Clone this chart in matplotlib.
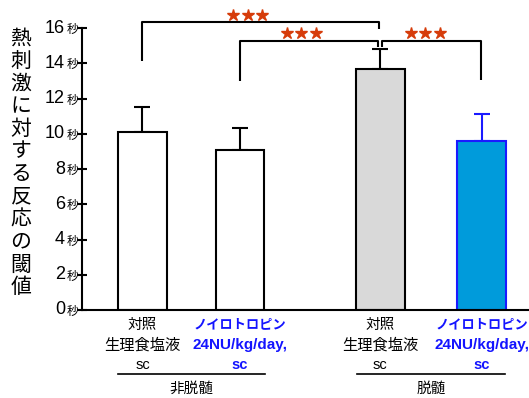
import matplotlib.pyplot as plt
import numpy as np

plt.rcParams['font.family'] = ['Liberation Sans', 'Noto Sans CJK JP']

# data
means = [10.1, 9.1, 13.7, 9.6]
errs = [1.4, 1.2, 1.1, 1.5]
xpos = [0, 1, 2.44, 3.48]
fills = ['white', 'white', '#d9d9d9', '#009bdb']
edges = ['black', 'black', 'black', '#1a1aff']
yticks = [0, 2, 4, 6, 8, 10, 12, 14, 16]
ylab = '熱刺激に対する反応の閾値'
lab_ctrl = ['対照', '生理食塩液', 'sc']
lab_drug = ['ノイロトロピン', '24NU/kg/day,', 'sc']
groups = ['非脱髄', '脱髄']

W, H = 529, 398
fig = plt.figure(figsize=(W / 100, H / 100), dpi=100)
ax = fig.add_axes([82 / W, (H - 310) / H, (W - 82) / W, 282 / H])
ax.set_ylim(0, 16)
ax.set_xlim(-0.62, 3.965)

ax.bar(xpos, means, width=0.5, color=fills, edgecolor=edges, linewidth=1.5, zorder=2)
for x, m, e, c in zip(xpos, means, errs, edges):
    ax.errorbar(x, m, yerr=[[0], [e]], color=c, capsize=6, elinewidth=1.5,
                capthick=1.5, zorder=1)

for s in ['top', 'right']:
    ax.spines[s].set_visible(False)
ax.spines['left'].set_linewidth(1.5)
ax.spines['bottom'].set_linewidth(1.5)
ax.set_xticks([])
ax.set_yticks(yticks)
ax.set_yticklabels([])
ax.tick_params(axis='y', direction='inout', length=7, width=1.5)

ytr = ax.get_yaxis_transform()
for t in yticks:
    ax.text(-0.038, t, str(t), transform=ytr, ha='right', va='center', fontsize=13)
    ax.text(-0.008, t - 0.12, '秒', transform=ytr, ha='right', va='center', fontsize=8.5)

# y label, stacked characters
for i, ch in enumerate(ylab):
    fig.text(21 / W, 1 - (39 + i * 22.6) / H, ch, ha='center', va='center', fontsize=15)

# significance brackets
kw = dict(color='black', lw=1.5, clip_on=False, solid_capstyle='butt')
ax.plot([0, 0, 2.425, 2.425], [14.1, 16.35, 16.35, 15.95], **kw)
ax.plot([1, 1, 2.415, 2.415], [13.0, 15.25, 15.25, 14.95], **kw)
ax.plot([2.46, 2.46, 3.47, 3.47], [14.95, 15.25, 15.25, 13.05], **kw)
star = '#d63c0a'
for cx, cy in [(1.08, 16.75), (1.63, 15.72), (2.9, 15.72)]:
    ax.plot([cx - 0.15, cx, cx + 0.15], [cy] * 3, '*', color=star, ms=9,
            mec=star, clip_on=False)

# category labels
xtr = ax.get_xaxis_transform()
ylines = [-0.053, -0.124, -0.195]
blue = '#1414ff'
for gx in [xpos[0], xpos[2]]:
    ax.text(gx, ylines[0], lab_ctrl[0], transform=xtr, ha='center', va='center', fontsize=10.5)
    ax.text(gx, ylines[1], lab_ctrl[1], transform=xtr, ha='center', va='center', fontsize=11)
    ax.text(gx, ylines[2], lab_ctrl[2], transform=xtr, ha='center', va='center', fontsize=10.5)
for gx in [xpos[1], xpos[3]]:
    ax.text(gx, ylines[0], lab_drug[0], transform=xtr, ha='center', va='center',
            fontsize=9.5, color=blue, fontweight='bold')
    ax.text(gx, ylines[1], lab_drug[1], transform=xtr, ha='center', va='center',
            fontsize=11, color=blue, fontweight='bold')
    ax.text(gx, ylines[2], lab_drug[2], transform=xtr, ha='center', va='center',
            fontsize=10.5, color=blue, fontweight='bold')

for (x0, x1), g in zip([(-0.251, 1.256), (2.2, 3.72)], groups):
    ax.plot([x0, x1], [-0.227, -0.227], transform=xtr, color='black', lw=1.2, clip_on=False)
    ax.text((x0 + x1) / 2, -0.28, g, transform=xtr, ha='center', va='center', fontsize=10.5)

fig.savefig('out.png', dpi=100)
